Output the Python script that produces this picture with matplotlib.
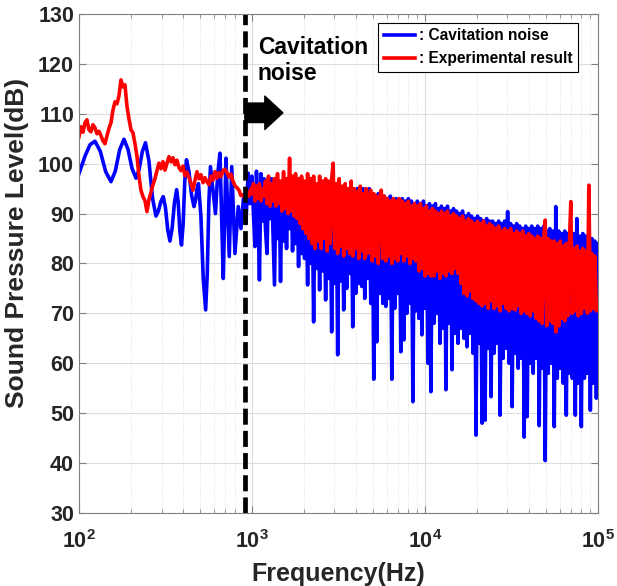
import numpy as np
import matplotlib.pyplot as plt
from matplotlib.ticker import LogLocator, NullFormatter, MultipleLocator

plt.rcParams['font.family'] = ['Liberation Sans', 'DejaVu Sans']
plt.rcParams['font.weight'] = 'bold'
plt.rcParams['mathtext.fontset'] = 'custom'
plt.rcParams['mathtext.rm'] = 'Liberation Sans:bold'
plt.rcParams['mathtext.it'] = 'Liberation Sans:bold'
plt.rcParams['mathtext.bf'] = 'Liberation Sans:bold'

# start of cavitation noise region (Hz)
cav_start = 910

# blue curve below 1 kHz (Hz, dB)
blue_lo_f = [100.0, 108.3, 115.8, 123.7, 132.8, 142.7, 153.1, 162.1, 171.9, 182.0,
             192.0, 202.5, 213.6, 222.9, 232.3, 242.4, 253.9, 266.0, 278.6, 287.7,
             297.4, 307.1, 316.2, 326.1, 335.7, 345.7, 356.5, 367.1, 375.0, 383.1,
             391.4, 400.3, 408.9, 418.3, 432.5, 447.1, 462.2, 471.5, 481.0, 490.7,
             506.6, 523.0, 540.0, 551.6, 563.5, 575.6, 595.1, 615.2, 634.3, 653.1,
             668.1, 682.5, 695.3, 707.4, 723.6, 739.2, 752.1, 764.2, 780.7, 797.5,
             815.8, 833.3, 849.0, 863.9, 877.8, 893.1, 908.7, 923.3, 938.2, 952.0,
             973.8]
blue_lo_db = [98.0, 101.5, 103.8, 104.5, 102.5, 98.4, 96.4, 98.5, 102.8, 104.9,
              102.9, 99.1, 97.1, 98.9, 102.4, 104.2, 100.5, 93.2, 89.5, 90.5,
              92.4, 93.4, 91.2, 86.7, 84.5, 87.1, 92.2, 94.8, 92.1, 86.4,
              83.7, 88.0, 96.5, 100.8, 98.4, 93.8, 91.4, 92.6, 94.8, 96.0,
              89.7, 77.0, 70.7, 77.9, 92.2, 99.4, 94.7, 90.0, 98.0, 102.1,
              89.5, 77.0, 89.0, 101.1, 91.0, 81.4, 90.4, 99.4, 90.7, 82.0,
              86.7, 91.4, 89.2, 87.0, 90.0, 93.0, 90.5, 88.0, 94.0, 98.1,
              92.0]

# red curve below 1 kHz (Hz, dB)
red_lo_f = [100.0, 102.7, 105.5, 108.3, 111.2, 114.2, 117.3, 120.5, 123.7, 127.1,
            130.5, 134.0, 137.6, 141.4, 145.2, 149.1, 153.1, 157.3, 161.5, 165.8,
            170.3, 174.9, 179.6, 184.5, 189.4, 194.5, 199.8, 205.2, 210.7, 216.4,
            222.3, 228.2, 234.4, 240.7, 247.2, 253.9, 260.7, 267.8, 275.0, 282.4,
            290.0, 297.9, 305.9, 314.1, 322.6, 331.3, 340.3, 349.4, 358.9, 368.6,
            378.5, 388.7, 399.2, 410.0, 421.0, 432.4, 444.1, 456.0, 468.3, 481.0,
            493.9, 507.3, 521.0, 535.0, 549.5, 564.3, 579.5, 595.1, 611.2, 627.7,
            644.5, 662.0, 679.8, 698.2, 717.0, 736.4, 756.2, 776.7, 797.5, 819.1,
            841.2, 863.9, 887.2, 911.1, 935.7, 961.0, 986.8]
red_lo_db = [105.4, 107.4, 106.3, 108.2, 108.8, 106.8, 106.4, 107.8, 107.2, 106.0,
             106.5, 105.6, 104.6, 104.0, 105.6, 107.1, 108.2, 110.8, 112.4, 112.0,
             113.6, 116.8, 115.4, 115.8, 111.5, 109.0, 106.8, 106.2, 104.0, 101.5,
             97.5, 94.7, 93.4, 92.6, 90.4, 92.8, 94.3, 95.8, 97.0, 98.6,
             100.1, 99.0, 100.4, 98.7, 100.1, 101.4, 100.4, 101.2, 99.8, 100.7,
             99.2, 98.6, 99.5, 97.6, 98.3, 97.2, 96.0, 94.7, 96.6, 98.4,
             97.0, 97.8, 96.2, 97.2, 96.4, 95.8, 97.5, 96.7, 98.4, 97.1,
             98.2, 97.4, 98.6, 98.9, 98.2, 97.3, 97.9, 96.5, 95.6, 95.2,
             94.7, 93.6, 93.8, 93.2, 94.4, 93.5, 95.0]

# shared frequency points from 1 kHz to 100 kHz (Hz)
hi_f = [1000, 1020, 1041, 1062, 1083, 1105, 1128, 1150, 1174, 1197,
        1222, 1246, 1272, 1297, 1323, 1350, 1378, 1405, 1434, 1463,
        1492, 1523, 1553, 1585, 1617, 1650, 1683, 1717, 1752, 1787,
        1823, 1860, 1898, 1936, 1975, 2015, 2056, 2098, 2140, 2183,
        2228, 2273, 2319, 2365, 2413, 2462, 2512, 2563, 2615, 2667,
        2721, 2776, 2833, 2890, 2948, 3008, 3069, 3131, 3194, 3259,
        3325, 3392, 3460, 3530, 3602, 3675, 3749, 3825, 3902, 3981,
        4062, 4144, 4228, 4313, 4400, 4489, 4580, 4673, 4767, 4864,
        4962, 5062, 5165, 5269, 5376, 5485, 5596, 5709, 5824, 5942,
        6062, 6185, 6310, 6438, 6568, 6701, 6836, 6974, 7115, 7259,
        7406, 7556, 7709, 7865, 8024, 8186, 8352, 8521, 8693, 8869,
        9048, 9231, 9418, 9608, 9803,
        10000, 10200, 10410, 10620, 10830, 11050, 11280, 11500, 11740, 11970,
        12220, 12460, 12720, 12970, 13230, 13500, 13780, 14050, 14340, 14630,
        14920, 15230, 15530, 15850, 16170, 16500, 16830, 17170, 17520, 17870,
        18230, 18600, 18980, 19360, 19750, 20150, 20560, 20980, 21400, 21830,
        22280, 22730, 23190, 23650, 24130, 24620, 25120, 25630, 26150, 26670,
        27210, 27760, 28330, 28900, 29480, 30080, 30690, 31310, 31940, 32590,
        33250, 33920, 34600, 35300, 36020, 36750, 37490, 38250, 39020, 39810,
        40620, 41440, 42280, 43130, 44000, 44890, 45800, 46730, 47670, 48640,
        49620, 50620, 51650, 52690, 53760, 54850, 55960, 57090, 58240, 59420,
        60620, 61850, 63100, 64380, 65680, 67010, 68360, 69740, 71150, 72590,
        74060, 75560, 77090, 78650, 80240, 81860, 83520, 85210, 86930, 88690,
        90480, 92310, 94180, 96080, 98030, 100000]

blue_hi_db = [97.5, 90.0, 83.4, 98.5, 91.5, 76.7, 98.0, 88.5, 97.0, 87.0,
              82.0, 96.5, 89.0, 97.0, 86.5, 75.7, 96.0, 85.0, 96.5, 76.4,
              95.5, 84.5, 96.0, 83.0, 95.0, 87.0, 96.5, 82.5, 95.5, 84.0,
              95.0, 79.4, 96.0, 82.0, 95.0, 81.0, 94.5, 75.7, 95.5, 80.0,
              94.5, 68.3, 95.0, 79.0, 94.0, 74.7, 95.5, 78.5, 94.0, 72.7,
              95.0, 77.0, 94.5, 66.3, 94.0, 76.0, 95.0, 61.7, 94.5, 76.5,
              94.0, 70.7, 95.0, 75.0, 94.0, 78.0, 95.5, 67.3, 94.5, 74.0,
              95.0, 76.0, 94.0, 75.4, 95.0, 73.0, 94.5, 77.0, 95.0, 72.0,
              94.0, 56.8, 93.5, 64.3, 94.0, 74.0, 93.0, 72.0, 93.5, 71.4,
              93.0, 73.0, 93.5, 56.8, 92.5, 71.0, 93.0, 74.0, 92.5, 62.3,
              93.0, 64.7, 92.5, 70.0, 93.0, 72.0, 92.5, 52.3, 92.0, 70.5,
              92.5, 69.0, 92.0, 65.7, 92.5, 71.0, 91.5, 60.0, 92.0, 54.3,
              91.5, 68.0, 92.0, 70.0, 91.0, 64.0, 91.5, 67.0, 91.0, 54.7,
              91.5, 68.0, 90.5, 58.7, 91.0, 66.0, 90.5, 64.0, 90.0, 67.0,
              90.5, 65.0, 89.5, 63.3, 90.0, 66.0, 89.5, 62.0, 89.0, 45.6,
              89.5, 64.0, 89.0, 48.0, 88.5, 48.6, 89.0, 63.0, 88.5, 53.3,
              88.5, 62.0, 88.0, 64.0, 88.5, 49.6, 88.0, 61.0, 88.5, 63.0,
              90.4, 60.0, 88.0, 51.3, 87.5, 62.0, 88.0, 59.0, 87.5, 61.0,
              87.0, 45.2, 87.5, 49.3, 87.0, 60.0, 87.5, 58.0, 87.0, 61.0,
              87.5, 47.5, 87.0, 59.0, 87.5, 40.5, 86.5, 58.0, 87.0, 60.0,
              86.5, 47.3, 91.4, 57.0, 86.5, 59.0, 86.0, 56.0, 86.5, 49.6,
              86.0, 58.0, 86.5, 57.0, 86.0, 49.6, 89.0, 56.0, 85.5, 47.3,
              86.0, 57.0, 85.5, 58.0, 85.0, 50.6, 85.0, 56.0, 84.5, 53.0,
              84.0]

red_hi_db = [94.0, 96.0, 92.5, 95.5, 93.0, 96.0, 92.5, 95.0, 93.5, 96.5,
             92.0, 97.5, 91.5, 96.0, 92.5, 97.0, 91.5, 98.0, 92.0, 96.5,
             90.5, 98.4, 91.0, 97.0, 90.0, 101.1, 90.5, 97.5, 89.5, 98.0,
             89.0, 97.0, 88.0, 97.5, 87.0, 96.5, 86.0, 98.0, 85.0, 97.0,
             84.0, 97.5, 83.0, 96.0, 84.5, 97.5, 83.0, 96.5, 85.0, 97.0,
             82.5, 96.5, 84.0, 97.0, 100.1, 83.0, 96.0, 82.0, 97.0, 83.5,
             95.5, 81.5, 96.0, 83.0, 95.0, 82.0, 96.5, 81.5, 95.0, 83.0,
             94.5, 81.0, 95.5, 82.5, 94.0, 81.0, 95.0, 82.0, 93.5, 94.7,
             80.5, 94.0, 81.5, 93.5, 80.0, 93.0, 94.7, 81.0, 93.5, 80.5,
             93.0, 81.5, 92.5, 80.0, 93.0, 81.0, 92.5, 80.5, 93.0, 82.0,
             92.5, 80.5, 92.0, 81.5, 92.5, 80.0, 91.5, 81.0, 92.0, 80.5,
             91.5, 78.5, 92.0, 79.0, 91.0, 77.5, 91.5, 78.0, 90.5, 77.5,
             91.0, 77.5, 90.5, 78.5, 90.0, 77.0, 90.5, 78.0, 90.0, 77.5,
             90.5, 78.5, 89.5, 78.0, 90.0, 79.0, 89.5, 78.0, 89.0, 76.0,
             89.5, 74.0, 88.5, 73.5, 89.0, 74.5, 88.5, 73.0, 88.0, 72.5,
             88.5, 72.0, 88.0, 71.5, 88.5, 72.0, 87.5, 71.0, 88.0, 72.5,
             87.5, 71.0, 87.0, 71.5, 87.5, 70.5, 86.5, 72.0, 87.0, 71.0,
             86.5, 70.5, 87.0, 71.0, 86.0, 70.7, 86.5, 71.5, 86.0, 70.0,
             86.5, 70.5, 85.5, 70.0, 86.0, 69.5, 85.5, 70.5, 85.0, 69.0,
             85.5, 68.5, 85.0, 68.0, 85.5, 88.7, 67.5, 85.0, 68.5, 84.5,
             68.0, 84.5, 66.3, 84.0, 67.5, 84.5, 69.0, 83.5, 68.5, 84.0,
             69.5, 83.5, 92.4, 70.0, 83.0, 70.5, 83.5, 69.5, 82.5, 70.0,
             83.0, 71.0, 82.5, 70.0, 95.7, 70.5, 82.0, 71.0, 81.5, 70.5,
             72.0]

blue_f = blue_lo_f + hi_f
blue_db = blue_lo_db + blue_hi_db
red_f = red_lo_f + hi_f
red_db = red_lo_db + red_hi_db

fig = plt.figure(figsize=(6.17, 5.86), dpi=100)
ax = fig.add_axes([0.128, 0.1246, 0.841, 0.8515])

ax.semilogx(blue_f, blue_db, color='#0000ff', lw=2.6, label=': Cavitation noise')
ax.semilogx(red_f, red_db, color='#ff0000', lw=2.6, label=': Experimental result')
ax.axvline(cav_start, color='k', lw=3.4, ls=(0, (3.4, 1.3)))

ax.set_xlim(1e2, 1e5)
ax.set_ylim(30, 130)
ax.yaxis.set_major_locator(MultipleLocator(10))
ax.xaxis.set_minor_locator(LogLocator(base=10, subs=np.arange(2, 10)))
ax.xaxis.set_minor_formatter(NullFormatter())
ax.grid(which='major', color='#dcdcdc', lw=0.8)
ax.grid(which='minor', axis='x', color='#dcdcdc', lw=0.6, ls=':')
ax.set_axisbelow(True)
ax.tick_params(which='both', direction='in', top=True, right=True,
               colors='#808080', labelcolor='#262626', labelsize=15.5)
ax.tick_params(which='major', length=5)
ax.tick_params(which='minor', length=3)
ax.tick_params(axis='x', which='major', pad=12)
for s in ax.spines.values():
    s.set_color('#808080')

ax.set_xlabel('Frequency(Hz)', fontsize=18, fontweight='bold', color='#262626',
              labelpad=7)
ax.set_ylabel('Sound Pressure Level(dB)', fontsize=19, fontweight='bold',
              color='#262626')
ax.yaxis.set_label_coords(-0.097, 0.541)

ax.text(1080, 125.6, 'Cavitation\nnoise', fontsize=16.5, fontweight='bold',
        va='top', ha='left', linespacing=1.15)
ax.annotate('', xy=(1510, 110.2), xytext=(cav_start, 110.2),
            arrowprops=dict(arrowstyle='simple,head_length=1.3,head_width=2.4,tail_width=1.4',
                            color='k', shrinkA=0, shrinkB=0, mutation_scale=10))

leg = ax.legend(loc='upper right', bbox_to_anchor=(0.961, 0.982), borderaxespad=0,
                fancybox=False, edgecolor='k', framealpha=1,
                prop={'weight': 'bold', 'size': 11.2}, handlelength=2.0,
                handletextpad=0.25, borderpad=0.35, labelspacing=0.5)
leg.get_frame().set_linewidth(0.8)

fig.savefig('out.png', dpi=100)
